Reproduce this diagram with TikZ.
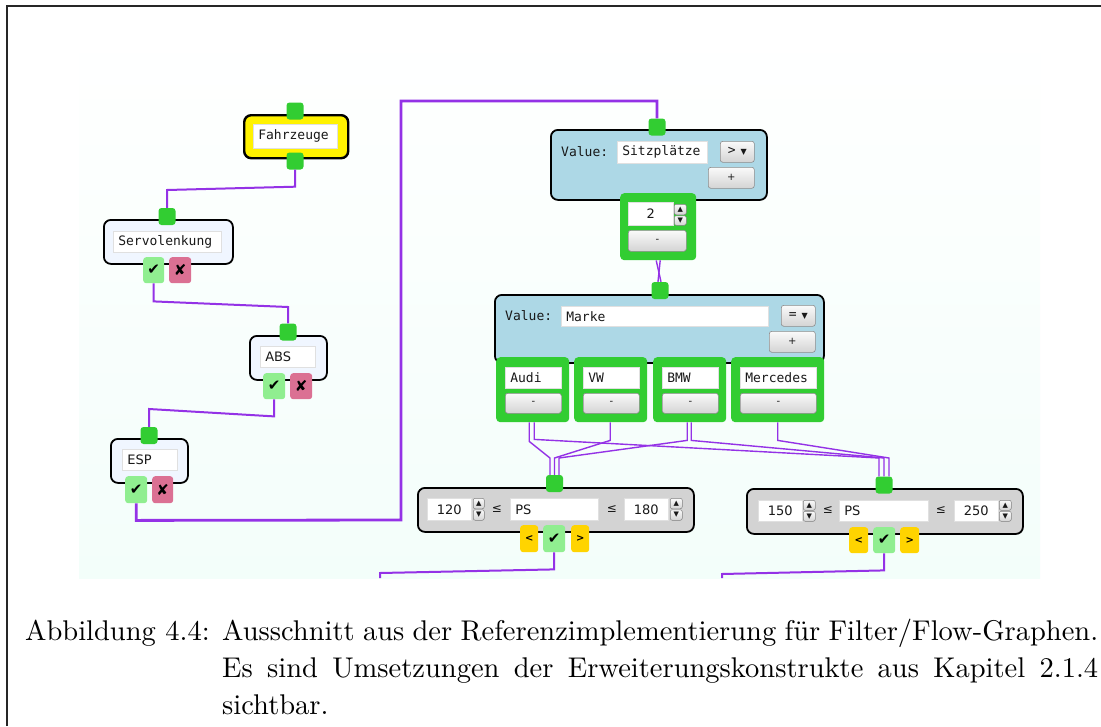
\documentclass[tikz,border=0pt]{standalone}
\usepackage{fontspec}
\newfontfamily\uimono{DejaVu Sans Mono}
\newfontfamily\uisans{DejaVu Sans}
\newfontfamily\capfont{lmroman10-regular.otf}
\usetikzlibrary{calc}

\definecolor{wirecol}{RGB}{148,50,230}
\definecolor{portgreen}{RGB}{50,205,50}
\definecolor{okgreen}{RGB}{144,238,144}
\definecolor{nored}{RGB}{219,112,147}
\definecolor{cmpgold}{RGB}{255,212,0}
\definecolor{valueblue}{RGB}{173,216,230}
\definecolor{alice}{RGB}{240,246,255}
\definecolor{panelgray}{RGB}{211,211,211}
\definecolor{mint}{RGB}{243,254,250}
\definecolor{ink}{RGB}{25,25,25}

\newcommand\monotext{\uimono\fontsize{13}{15}\selectfont}
\newcommand\sanstext{\uisans\fontsize{13}{15}\selectfont}

% box given by its corners: name, style, x1, y1, x2, y2, text
\newcommand{\uibox}[7]{%
  \node[#2, anchor=north west, minimum width={(#5)-(#3)}, minimum height={(#6)-(#4)}] (#1) at (#3,#4) {#7};}
% text field with left-aligned text: name, x1, y1, x2, y2, text
\newcommand{\uifield}[6]{%
  \pgfmathsetmacro\fieldw{(#4)-(#2)-10}%
  \node[field, anchor=north west, minimum width={(#4)-(#2)}, minimum height={(#5)-(#3)},
        inner xsep=5pt, text width=\fieldw pt, align=left] (#1) at (#2,#3) {#6};}
% justified caption line of fixed width
\newcommand{\capline}[1]{\makebox[876pt][s]{#1}}

\begin{document}
\begin{tikzpicture}[x=1pt, y=-1pt,
  port/.style={fill=portgreen, rounded corners=3pt, minimum width=17pt, minimum height=17pt, inner sep=0pt},
  panel/.style={draw=black, line width=1.8pt, rounded corners=7pt, inner sep=0pt},
  childbox/.style={fill=portgreen, rounded corners=4pt, inner sep=0pt},
  field/.style={fill=white, draw=black!12, line width=0.6pt, inner sep=0pt, font=\monotext, text=ink},
  btn/.style={draw=black!45, line width=0.6pt, rounded corners=2.5pt, top color=black!2, bottom color=black!17,
              inner sep=0pt, font=\uisans\fontsize{10}{12}\selectfont, text=ink},
  spin/.style={draw=black!50, line width=0.5pt, rounded corners=2pt, top color=black!2, bottom color=black!17,
              inner sep=0pt, font=\uisans\fontsize{7}{7}\selectfont, text=ink},
  okbtn/.style={fill=okgreen, rounded corners=3pt, inner sep=0pt, font=\uisans\fontsize{15}{16}\selectfont},
  nobtn/.style={fill=nored, rounded corners=3pt, inner sep=0pt, font=\uisans\fontsize{15}{16}\selectfont},
  cmpbtn/.style={fill=cmpgold, rounded corners=3pt, inner sep=0pt, font=\uisans\bfseries\fontsize{10}{12}\selectfont},
  rel/.style={font=\uisans\fontsize{12}{14}\selectfont, text=ink, inner sep=0pt},
  wire/.style={draw=wirecol, line width=2pt},
  thinwire/.style={draw=wirecol, line width=1.4pt},
  mainwire/.style={draw=wirecol, line width=2.8pt},
  captext/.style={anchor=base west, inner sep=0pt, font=\capfont\fontsize{28.5}{37}\selectfont}
]
\useasboundingbox (0,0) rectangle (1101,726);
\fill[white] (0,0) rectangle (1101,726);
% screenshot canvas
\shade[top color=white, bottom color=mint] (79,30) rectangle (1040,578);
% page frame
\draw[line width=1.3pt, black!85] (7,726) -- (7,6) -- (1101,6);

% ---------- Fahrzeuge ----------
\uibox{fz}{panel, fill=yellow, line width=2.4pt}{243}{114}{347}{157}{}
\uifield{fz-name}{253}{124}{337}{148}{Fahrzeuge}
\node[port] (fz-in) at (295,111) {};
\node[port] (fz-out) at (295,161) {};

% ---------- Servolenkung ----------
\uibox{sv}{panel, fill=alice}{103}{219}{232}{263}{}
\uifield{sv-name}{113}{231}{221}{252}{Servolenkung}
\node[port] (sv-in) at (167,216.5) {};
\uibox{sv-ok}{okbtn}{143}{257}{164}{283}{✔}
\uibox{sv-no}{nobtn}{169}{257}{191}{283}{✘}

% ---------- ABS ----------
\uibox{abs}{panel, fill=alice}{249}{335}{326}{379}{}
\uifield{abs-name}{260}{346}{315}{367}{\sanstext ABS}
\node[port] (abs-in) at (288,332) {};
\uibox{abs-ok}{okbtn}{263}{373}{285}{399}{✔}
\uibox{abs-no}{nobtn}{290}{373}{312}{399}{✘}

% ---------- ESP ----------
\uibox{esp}{panel, fill=alice}{110}{438}{187}{482}{}
\uifield{esp-name}{122}{449}{177}{470}{\sanstext ESP}
\node[port] (esp-in) at (149,435.5) {};
\uibox{esp-ok}{okbtn}{125}{476}{147}{503}{✔}
\uibox{esp-no}{nobtn}{152}{476}{173}{503}{✘}

% ---------- Value: Sitzplaetze ----------
\uibox{sp}{panel, fill=valueblue}{550}{129}{766}{199}{}
\node[port] (sp-in) at (657,127) {};
\node[anchor=west, font=\monotext, text=ink, inner sep=0pt] (sp-label) at (561,152) {Value:};
\uifield{sp-name}{617}{141}{707}{163}{Sitzplätze}
\uibox{sp-op}{btn}{720}{141}{754}{162}{{\monotext >}\hspace{5pt}{\fontsize{8}{8}\selectfont ▼}}
\uibox{sp-add}{btn}{708}{167}{754}{188}{+}
\uibox{sp-c}{childbox}{620}{193}{696}{260}{}
\uibox{sp-c-val}{field}{628}{202}{673}{225}{\sanstext 2}
\uibox{sp-c-up}{spin}{674}{204}{686}{214.5}{▲}
\uibox{sp-c-dn}{spin}{674}{215.5}{686}{225}{▼}
\uibox{sp-c-del}{btn}{628}{230}{686}{251}{-}

% ---------- Value: Marke ----------
\uibox{mk}{panel, fill=valueblue}{494}{294}{823}{362}{}
\node[port] (mk-in) at (660,290.5) {};
\node[anchor=west, font=\monotext, text=ink, inner sep=0pt] (mk-label) at (505,316) {Value:};
\uifield{mk-name}{561}{306}{768}{326}{Marke}
\uibox{mk-op}{btn}{781}{305}{815}{326}{{\monotext =}\hspace{5pt}{\fontsize{8}{8}\selectfont ▼}}
\uibox{mk-add}{btn}{769}{331}{815}{352}{+}

\uibox{audi}{childbox}{496}{357}{569}{422}{}
\uifield{audi-name}{505}{367}{561}{388}{Audi}
\uibox{audi-del}{btn}{505}{393}{561}{413}{-}
\uibox{vw}{childbox}{574}{357}{647}{422}{}
\uifield{vw-name}{583}{367}{639}{388}{VW}
\uibox{vw-del}{btn}{583}{393}{639}{413}{-}
\uibox{bmw}{childbox}{653}{357}{726}{422}{}
\uifield{bmw-name}{662}{367}{718}{388}{BMW}
\uibox{bmw-del}{btn}{662}{393}{718}{413}{-}
\uibox{merc}{childbox}{731}{357}{824}{422}{}
\uifield{merc-name}{740}{367}{816}{388}{Mercedes}
\uibox{merc-del}{btn}{740}{393}{816}{413}{-}

% ---------- Range 120 <= PS <= 180 ----------
\uibox{psl}{panel, fill=panelgray}{417}{487}{693}{531}{}
\node[port] (psl-in) at (554.5,483.5) {};
\uibox{psl-lo}{field}{427}{498}{471}{520}{\sanstext 120}
\uibox{psl-lo-up}{spin}{473}{498}{484}{508.5}{▲}
\uibox{psl-lo-dn}{spin}{473}{509.5}{484}{520}{▼}
\node[rel] (psl-le1) at (497,509) {≤};
\uifield{psl-name}{510}{498}{598}{520}{\sanstext PS}
\node[rel] (psl-le2) at (612,509) {≤};
\uibox{psl-hi}{field}{624}{498}{668}{520}{\sanstext 180}
\uibox{psl-hi-up}{spin}{670}{498}{682}{508.5}{▲}
\uibox{psl-hi-dn}{spin}{670}{509.5}{682}{520}{▼}
\uibox{psl-lt}{cmpbtn}{520}{525}{538}{552}{<}
\uibox{psl-ok}{okbtn}{543}{525}{565}{552}{✔}
\uibox{psl-gt}{cmpbtn}{571}{525}{589}{552}{>}

% ---------- Range 150 <= PS <= 250 ----------
\uibox{psr}{panel, fill=panelgray}{746}{488}{1022}{533}{}
\node[port] (psr-in) at (884,485) {};
\uibox{psr-lo}{field}{758}{500}{802}{521}{\sanstext 150}
\uibox{psr-lo-up}{spin}{803}{500}{815}{510}{▲}
\uibox{psr-lo-dn}{spin}{803}{511}{815}{521}{▼}
\node[rel] (psr-le1) at (828,510) {≤};
\uifield{psr-name}{839}{500}{928}{521}{\sanstext PS}
\node[rel] (psr-le2) at (941,510) {≤};
\uibox{psr-hi}{field}{954}{500}{998}{521}{\sanstext 250}
\uibox{psr-hi-up}{spin}{999}{500}{1011}{510}{▲}
\uibox{psr-hi-dn}{spin}{999}{511}{1011}{521}{▼}
\uibox{psr-lt}{cmpbtn}{849}{527}{868}{553}{<}
\uibox{psr-ok}{okbtn}{873}{527}{895}{553}{✔}
\uibox{psr-gt}{cmpbtn}{900}{527}{919}{553}{>}

% ---------- connectors ----------
\draw[wire] (fz-out.south) -- ++(0,17) -- (167,190) -- (sv-in.north);
\draw[wire] (sv-ok.south) -- ++(0,18) -- (288,307) -- (abs-in.north);
\draw[wire] (abs-ok.south) -- ++(0,17) -- (149,409) -- (esp-in.north);
\draw[mainwire] (esp-ok.south) -- ++(0,17) -- (401,520) -- (401,101) -- (657,101) -- (sp-in.north);

\draw[thinwire] ([xshift=-2pt]sp-c.south) -- ([xshift=1pt]mk-in.north);
\draw[thinwire] ([xshift=2pt]sp-c.south) -- ([xshift=-2pt]mk-in.north);

\draw[thinwire] ([xshift=-3.5pt]audi.south) -- ++(0,19) -- (550,458) -- ([xshift=-4.5pt]psl-in.north);
\draw[thinwire] ([xshift=1.5pt]audi.south) -- ++(0,17) -- (879,458) -- ([xshift=-5pt]psr-in.north);
\draw[thinwire] ([xshift=-0.5pt]vw.south) -- ++(0,18) -- (554.5,458) -- (psl-in.north);
\draw[thinwire] ([xshift=-2.5pt]bmw.south) -- ++(0,18) -- (559,458) -- ([xshift=4.5pt]psl-in.north);
\draw[thinwire] ([xshift=1.5pt]bmw.south) -- ++(0,18) -- (884,458) -- (psr-in.north);
\draw[thinwire] (merc.south) -- ++(0,18) -- (889,458) -- ([xshift=5pt]psr-in.north);

\coordinate (psl-end) at (380,578);
\coordinate (psr-end) at (722,578);
\draw[wire] (psl-ok.south) -- ++(0,17) -- (380,573) -- (psl-end);
\draw[wire] (psr-ok.south) -- ++(0,17) -- (722,574) -- (psr-end);

% ---------- caption ----------
\node[captext] (cap-label) at (25,640) {Abbildung 4.4:};
\node[captext] (cap-l1) at (222,640) {\capline{Ausschnitt aus der Referenzimplementierung für Filter/Flow-Graphen.}};
\node[captext] (cap-l2) at (222,677) {\capline{Es sind Umsetzungen der Erweiterungskonstrukte aus Kapitel 2.1.4}};
\node[captext] (cap-l3) at (222,714) {sichtbar.};
\end{tikzpicture}
\end{document}
